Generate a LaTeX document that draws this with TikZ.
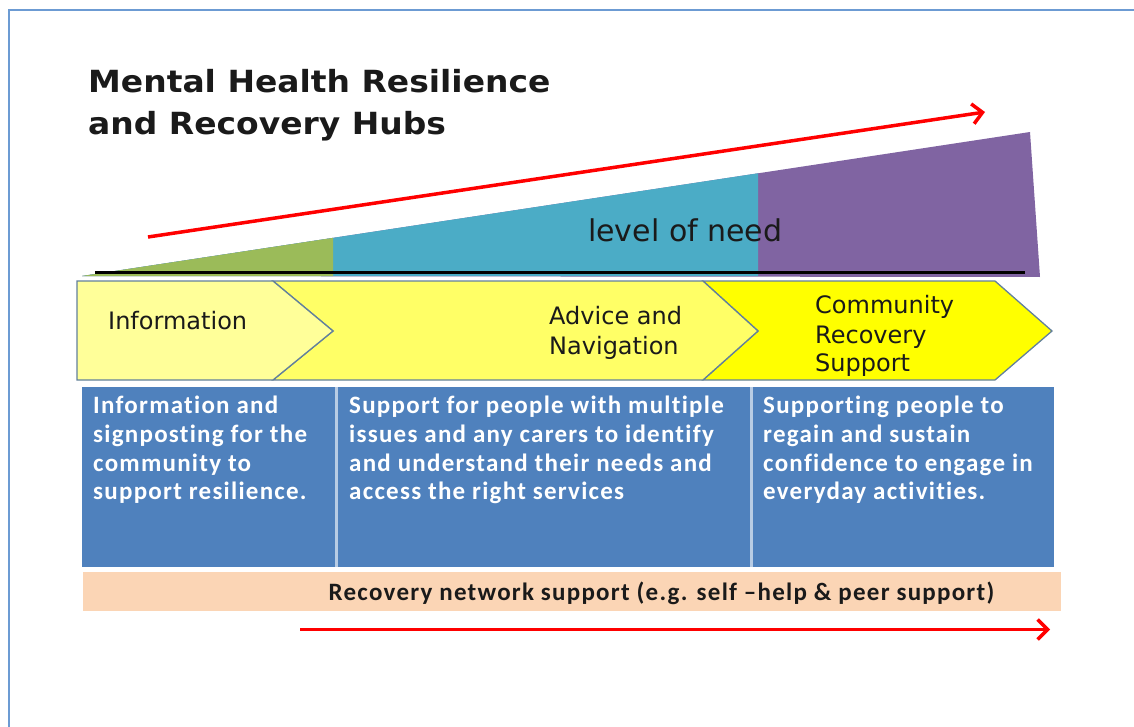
\documentclass[tikz,border=0pt]{standalone}
\usepackage{fontspec}
\usetikzlibrary{arrows.meta}
\setmainfont{DejaVu Sans}
\newfontfamily\titlefont{DejaVu Sans}[FakeStretch=1.08]
\newfontfamily\boxfont{Carlito}[LetterSpace=5, Ligatures=NoCommon]

\definecolor{framec}{HTML}{6C9BD3}
\definecolor{needgreen}{HTML}{9BBB59}
\definecolor{needteal}{HTML}{4BACC6}
\definecolor{needpurple}{HTML}{8064A2}
\definecolor{chevA}{HTML}{FFFF99}
\definecolor{chevB}{HTML}{FFFF66}
\definecolor{chevC}{HTML}{FFFF00}
\definecolor{chevline}{HTML}{62809C}
\definecolor{boxblue}{HTML}{4F81BD}
\definecolor{boxsep}{HTML}{B8CCE4}
\definecolor{peach}{HTML}{FBD5B5}
\definecolor{textdark}{HTML}{1A1A1A}

\tikzset{
  chevron/.style={draw=chevline, line width=1.3pt, line join=miter},
  redarrow/.style={draw=red, line width=3.5pt,
    -{Straight Barb[length=10pt, width=20pt, line width=3.5pt]}},
  label/.style={inner sep=0pt, anchor=base west, text=textdark,
    font=\fontsize{24}{30}\selectfont},
  boxtext/.style={inner sep=0pt, anchor=north west, align=left, text=white,
    font=\boxfont\bfseries\fontsize{25}{28.7}\selectfont},
}

\begin{document}
\begin{tikzpicture}[x=1pt, y=-1pt]
\useasboundingbox (0,0) rectangle (1134,727);

% outer frame (runs off the page to the right and bottom)
\draw[framec, line width=2pt] (9,727) -- (9,10) -- (1134,10);

% title
\node[inner sep=0pt, anchor=base west, text=textdark,
      font=\titlefont\bfseries\fontsize{30.5}{41}\selectfont] (title1) at (88,93) {Mental Health Resilience};
\node[inner sep=0pt, anchor=base west, text=textdark,
      font=\titlefont\bfseries\fontsize{30.5}{41}\selectfont] (title2) at (88,135) {and Recovery Hubs};

% level-of-need wedge
\fill[needpurple] (82,276) -- (1030,132) -- (1040,277) -- cycle;
\fill[needteal] (82,276) -- (758,173.3) -- (758,276) -- cycle;
\fill[needgreen] (82,276) -- (333,237.9) -- (333,276) -- cycle;
\draw[black, line width=3pt] (95,272) -- (1025,272);
\node[inner sep=0pt, anchor=base west, text=textdark,
      font=\fontsize{30}{36}\selectfont] (need) at (588,242) {level of need};

% rising arrow above the wedge
\coordinate (upS) at (148,237);
\coordinate (upE) at (985,112);
\draw[redarrow] (upS) -- (upE);

% stage chevrons (drawn back to front)
\draw[chevron, fill=chevC] (703,281) -- (995,281) -- (1052,331) -- (995,380) -- (703,380) -- (758,331) -- cycle;
\draw[chevron, fill=chevB] (273,281) -- (703,281) -- (758,331) -- (703,380) -- (273,380) -- (333,331) -- cycle;
\draw[chevron, fill=chevA] (77,281) -- (273,281) -- (333,331) -- (273,380) -- (77,380) -- cycle;

\node[label] (infoL) at (108,329) {Information};
\node[label] (advL1) at (549,324) {Advice and};
\node[label] (advL2) at (549,354) {Navigation};
\node[label] (comL1) at (815,313) {Community};
\node[label] (comL2) at (815,343) {Recovery};
\node[label] (comL3) at (815,371) {Support};

% description boxes
\fill[boxblue] (82,387) rectangle (1054,567);
\draw[boxsep, line width=3pt] (336.5,387) -- (336.5,567);
\draw[boxsep, line width=3pt] (751,387) -- (751,567);

\node[boxtext] (d1) at (93,396) {Information and\\signposting for the\\community to\\support resilience.};
\node[boxtext] (d2) at (349,396) {Support for people with multiple\\issues and any carers to identify\\and understand their needs and\\access the right services};
\node[boxtext] (d3) at (763,396) {Supporting people to\\regain and sustain\\confidence to engage in\\everyday activities.};

% recovery network band
\fill[peach] (83,572) rectangle (1061,611);
\node[inner sep=0pt, anchor=base, text=textdark,
      font=\boxfont\bfseries\fontsize{25}{30}\selectfont] (net) at (661.5,600) {Recovery network support (e.g. self –help \& peer support)};

% bottom arrow
\coordinate (lowS) at (300,629.5);
\coordinate (lowE) at (1050,629.5);
\draw[redarrow] (lowS) -- (lowE);
\end{tikzpicture}
\end{document}
